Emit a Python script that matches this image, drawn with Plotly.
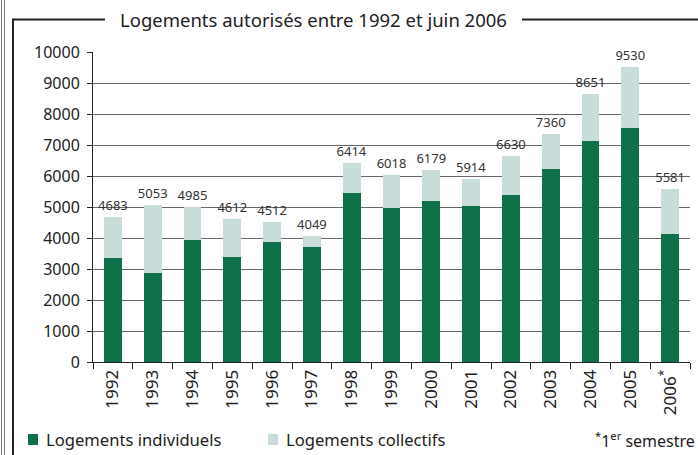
import plotly.graph_objects as go

years = ["1992", "1993", "1994", "1995", "1996", "1997", "1998", "1999",
         "2000", "2001", "2002", "2003", "2004", "2005", "2006"]
year_labels = years[:-1] + ["2006<sup>*</sup>"]
individuels = [3350, 2880, 3925, 3395, 3870, 3720, 5440, 4970,
               5195, 5025, 5390, 6225, 7125, 7540, 4130]
collectifs = [1333, 2173, 1060, 1217, 642, 329, 974, 1048,
              984, 889, 1240, 1135, 1526, 1990, 1451]
totaux = [4683, 5053, 4985, 4612, 4512, 4049, 6414, 6018,
          6179, 5914, 6630, 7360, 8651, 9530, 5581]
series_names = ["Logements individuels", "Logements collectifs"]

GREEN = "#0e7149"
LIGHT = "#c8dcda"
FONT = "Noto Sans"
TXT = "#222222"

W, H = 698, 455
ML, MR, MT, MB = 93, 8, 52, 93
PW, PH = W - ML - MR, H - MT - MB


def px(x):
    return (x - ML) / PW


def py(y):
    return (H - MB - y) / PH


fig = go.Figure()
fig.add_trace(go.Bar(
    x=years, y=individuels, name=series_names[0],
    marker=dict(color=GREEN, line=dict(width=0)),
))
fig.add_trace(go.Bar(
    x=years, y=collectifs, name=series_names[1],
    marker=dict(color=LIGHT, line=dict(width=0)),
    text=[str(t) for t in totaux], textposition="outside",
    textfont=dict(family=FONT, size=13, color="#333333"),
    constraintext="none", cliponaxis=False,
))

shapes = []
line_dark = dict(color="#222222", width=2)
line_gray = dict(color="#777777", width=1)
# outer double border on the left
shapes.append(dict(type="line", xref="paper", yref="paper",
                   x0=px(1.5), x1=px(1.5), y0=py(0), y1=py(H), line=line_gray))
shapes.append(dict(type="line", xref="paper", yref="paper",
                   x0=px(4.5), x1=px(4.5), y0=py(0), y1=py(H), line=line_gray))
# inner frame
shapes.append(dict(type="line", xref="paper", yref="paper",
                   x0=px(13), x1=px(13), y0=py(19.5), y1=py(H), line=line_dark))
shapes.append(dict(type="line", xref="paper", yref="paper",
                   x0=px(12), x1=px(105), y0=py(19.5), y1=py(19.5), line=line_dark))
shapes.append(dict(type="line", xref="paper", yref="paper",
                   x0=px(522), x1=px(W), y0=py(19.5), y1=py(19.5), line=line_dark))

# custom legend: swatches + labels
legend_items = [(28, GREEN, series_names[0]), (268, LIGHT, series_names[1])]
annotations = []
for x0, col, name in legend_items:
    shapes.append(dict(type="rect", xref="paper", yref="paper",
                       x0=px(x0), x1=px(x0 + 10), y0=py(445), y1=py(434),
                       fillcolor=col, line=dict(width=0)))
    annotations.append(dict(text=name, xref="paper", yref="paper",
                            x=px(x0 + 16), y=py(440), xanchor="left", yanchor="middle",
                            showarrow=False, font=dict(family=FONT, size=16.6, color=TXT)))

annotations += [
    dict(text="Logements autorisés entre 1992 et juin 2006", xref="paper", yref="paper",
         x=px(313), y=py(19), xanchor="center", yanchor="middle", showarrow=False,
         font=dict(family=FONT, size=18.5, color=TXT)),
    dict(text="<sup>*</sup>1<sup>er</sup> semestre", xref="paper", yref="paper",
         x=px(697), y=py(440), xanchor="right", yanchor="middle", showarrow=False,
         font=dict(family=FONT, size=16, color=TXT)),
]

fig.update_layout(
    width=W, height=H,
    margin=dict(l=ML, r=MR, t=MT, b=MB, autoexpand=False),
    paper_bgcolor="white", plot_bgcolor="white",
    barmode="stack", bargap=0.55,
    font=dict(family=FONT, color=TXT, size=16),
    showlegend=False,
    shapes=shapes, annotations=annotations,
)
fig.update_xaxes(
    type="category", tickvals=years, ticktext=year_labels, tickangle=-90,
    tickson="boundaries", ticks="outside", ticklen=6, tickcolor="#222222",
    showline=True, linecolor="#222222", linewidth=1, automargin=False,
    tickfont=dict(family=FONT, size=17, color=TXT), showgrid=False,
)
fig.update_yaxes(
    range=[0, 10000], dtick=1000, tickformat="d", ticks="outside", ticklen=5,
    tickcolor="#222222", automargin=False, ticklabelstandoff=4,
    showline=True, linecolor="#222222", linewidth=1,
    showgrid=True, gridcolor="#666666", gridwidth=1, zeroline=False,
    tickfont=dict(family=FONT, size=16, color=TXT),
)

fig.write_html("out.html", config={"displayModeBar": False},
               post_script="document.body.style.margin='0';document.body.style.overflow='hidden';")
